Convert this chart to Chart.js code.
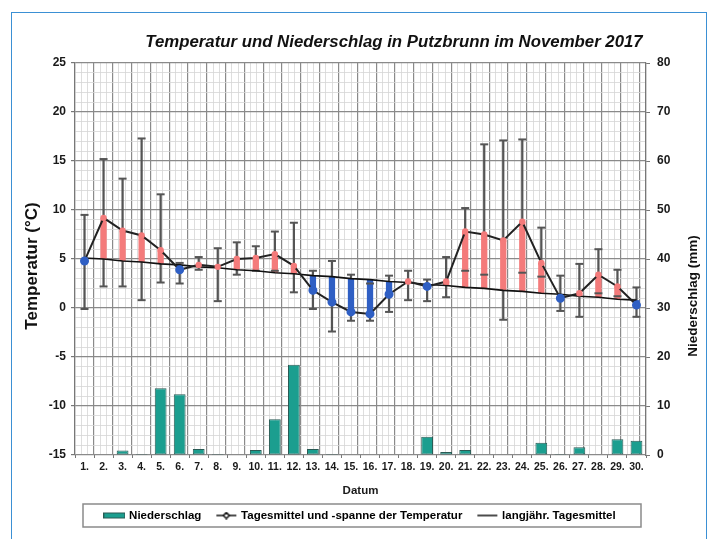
<!DOCTYPE html>
<html>
<head>
<meta charset="utf-8">
<script src="https://cdn.jsdelivr.net/npm/chart.js@4.4.1/dist/chart.umd.min.js"></script>
<style>
html, body { margin: 0; padding: 0; background: #fff; }
#wrap { position: relative; width: 711px; height: 539px; }
#frame { position: absolute; left: 11px; top: 12px; width: 694px; height: 540px; border: 1.5px solid #3b90d4; border-bottom: none; pointer-events: none; }
</style>
</head>
<body>
<div id="wrap">
  <canvas id="chart" width="711" height="539"></canvas>
  <div id="frame"></div>
</div>
<script>
// Datum (1. - 30. November 2017)
const tage = ['1.','2.','3.','4.','5.','6.','7.','8.','9.','10.','11.','12.','13.','14.','15.',
              '16.','17.','18.','19.','20.','21.','22.','23.','24.','25.','26.','27.','28.','29.','30.']

// Tagesmittel der Temperatur (°C)
const tagesmittel = [4.8, 9.2, 7.9, 7.4, 5.9, 3.9, 4.4, 4.2, 5.0, 5.1, 5.5, 4.3, 1.8, 0.6, -0.4,
                     -0.6, 1.4, 2.7, 2.2, 2.7, 7.8, 7.5, 6.9, 8.8, 4.6, 1.0, 1.5, 3.4, 2.2, 0.3]
// Tagesmaximum / Tagesminimum (°C)
const tagesmax = [9.5, 15.2, 13.2, 17.3, 11.6, 4.6, 5.2, 6.1, 6.7, 6.3, 7.8, 8.7, 3.8, 4.8, 3.4,
                  2.5, 3.3, 3.8, 2.9, 5.2, 10.2, 16.7, 17.1, 17.2, 8.2, 3.3, 4.5, 6.0, 3.9, 2.1]
const tagesmin = [-0.1, 2.2, 2.2, 0.8, 2.6, 2.5, 3.9, 0.7, 3.4, 3.8, 3.8, 1.6, -0.1, -2.4, -1.3,
                  -1.3, -0.4, 0.8, 0.7, 1.1, 3.8, 3.4, -1.2, 3.6, 3.2, -0.3, -0.9, 1.5, 1.2, -0.9]
// langjähriges Tagesmittel (°C)
const langjaehrig = [5.1, 5.0, 4.8, 4.7, 4.5, 4.4, 4.2, 4.1, 3.9, 3.8, 3.6, 3.5, 3.3, 3.2, 3.0,
                     2.9, 2.7, 2.6, 2.4, 2.3, 2.1, 2.0, 1.8, 1.7, 1.5, 1.4, 1.2, 1.1, 0.9, 0.8]
// Niederschlag (mm)
const niederschlag = [0, 0, 0.9, 0.2, 13.6, 12.4, 1.2, 0.2, 0, 1.0, 7.3, 18.4, 1.2, 0.2, 0,
                      0, 0, 0, 3.7, 0.6, 1.0, 0, 0, 0, 2.5, 0.2, 1.6, 0, 3.2, 2.9]

const ROT = '#f47b7b'
const BLAU = '#2f5fc4'
const TUERKIS = '#1b9e8f'
const GRAU = '#555'
const SCHRIFT = '"Liberation Sans", Arial, sans-serif'

Chart.defaults.font.family = SCHRIFT
Chart.defaults.font.weight = 'bold'
Chart.defaults.color = '#1a1a1a'

const ueber = tagesmittel.map((v, i) => v >= langjaehrig[i])
const farben = ueber.map(u => u ? ROT : BLAU)

// grobe Linie alle n Einheiten, feine dazwischen
const istHaupt = (c, n) => !c.tick || Math.round(c.tick.value) % n === 0

function swatch(art) {
    const c = document.createElement('canvas')
    c.width = 22
    c.height = 8
    const g = c.getContext('2d')
    if (art == 'balken') {
        g.fillStyle = TUERKIS
        g.fillRect(0, 1, 22, 6)
        g.strokeStyle = '#2a5a54'
        g.lineWidth = 1
        g.strokeRect(0.5, 1.5, 21, 5)
    } else {
        g.strokeStyle = '#111'
        g.lineWidth = 1.5
        g.beginPath()
        g.moveTo(1, 4)
        g.lineTo(21, 4)
        g.stroke()
        if (art == 'mittel') {
            g.fillStyle = '#fff'
            g.beginPath()
            g.moveTo(11, 1); g.lineTo(14, 4); g.lineTo(11, 7); g.lineTo(8, 4); g.closePath()
            g.fill()
            g.stroke()
        }
    }
    return c
}

const beschriftung = {
    id: 'beschriftung',
    afterDraw(chart) {
        const ctx = chart.ctx
        ctx.save()
        ctx.fillStyle = '#111'
        ctx.textAlign = 'center'
        ctx.textBaseline = 'middle'
        ctx.font = 'italic bold 16.8px ' + SCHRIFT
        ctx.fillText('Temperatur und Niederschlag in Putzbrunn im November 2017', 394, 42)

        ctx.font = 'bold 17px ' + SCHRIFT
        ctx.save()
        ctx.translate(32, 266)
        ctx.rotate(-Math.PI / 2)
        ctx.fillText('Temperatur (°C)', 0, 0)
        ctx.restore()
        ctx.font = 'bold 13.5px ' + SCHRIFT
        ctx.save()
        ctx.translate(693, 296)
        ctx.rotate(-Math.PI / 2)
        ctx.fillText('Niederschlag (mm)', 0, 0)
        ctx.restore()

        // Rahmen um die Legende
        const boxes = chart.legend.legendHitBoxes
        if (boxes && boxes.length) {
            const mitte = boxes[0].top + boxes[0].height / 2
            ctx.strokeStyle = '#8a8a8a'
            ctx.lineWidth = 1.5
            ctx.strokeRect(chart.chartArea.left + 8, mitte - 11.5, chart.chartArea.width - 13, 23)
        }
        ctx.restore()
    }
}

const ctx = document.getElementById('chart').getContext('2d')
const chart = new Chart(ctx, {
    type: 'bar',
    data: {
        labels: tage,
        datasets: [
            {
                label: 'Niederschlag',
                type: 'bar',
                data: niederschlag,
                yAxisID: 'yP',
                xAxisID: 'x',
                backgroundColor: TUERKIS,
                borderColor: '#2a5a54',
                borderWidth: 1,
                borderSkipped: false,
                barPercentage: 0.62,
                categoryPercentage: 1,
                grouped: false,
                order: 7
            },
            {
                label: 'Spanne',
                type: 'bar',
                data: tagesmin.map((v, i) => [v, tagesmax[i]]),
                yAxisID: 'y',
                xAxisID: 'x',
                backgroundColor: GRAU,
                barThickness: 1.6,
                grouped: false,
                order: 6
            },
            {
                label: 'Abweichung',
                type: 'bar',
                data: langjaehrig.map((v, i) => [v, tagesmittel[i]]),
                yAxisID: 'y',
                xAxisID: 'x',
                backgroundColor: farben,
                barPercentage: 0.33,
                categoryPercentage: 1,
                borderSkipped: false,
                grouped: false,
                order: 5
            },
            {
                label: 'Maximum',
                type: 'line',
                data: tagesmax,
                yAxisID: 'y',
                xAxisID: 'x',
                showLine: false,
                pointStyle: 'line',
                pointRadius: 4,
                borderColor: GRAU,
                borderWidth: 2,
                order: 4
            },
            {
                label: 'Minimum',
                type: 'line',
                data: tagesmin,
                yAxisID: 'y',
                xAxisID: 'x',
                showLine: false,
                pointStyle: 'line',
                pointRadius: 4,
                borderColor: GRAU,
                borderWidth: 2,
                order: 4
            },
            {
                label: 'langjähr. Tagesmittel',
                type: 'line',
                data: langjaehrig,
                yAxisID: 'y',
                xAxisID: 'x',
                borderColor: '#111',
                borderWidth: 1.6,
                pointRadius: 0,
                order: 3
            },
            {
                label: 'Tagesmittel und -spanne der Temperatur',
                type: 'line',
                data: tagesmittel,
                yAxisID: 'y',
                xAxisID: 'x',
                borderColor: '#222',
                borderWidth: 2,
                pointRadius: ueber.map(u => u ? 2.2 : 3.5),
                pointBackgroundColor: farben,
                pointBorderColor: farben,
                order: 2
            }
        ]
    },
    options: {
        responsive: false,
        animation: false,
        devicePixelRatio: 1,
        layout: { padding: { top: 63, right: 0, bottom: 7.75, left: 0 } },
        plugins: {
            tooltip: { enabled: false },
            title: { display: false },
            legend: {
                position: 'bottom',
                fullSize: false,
                labels: {
                    usePointStyle: true,
                    pointStyleWidth: 18,
                    boxHeight: 8,
                    padding: 16,
                    color: '#222',
                    font: { size: 11.5, weight: 'bold' },
                    generateLabels: () => [
                        { text: 'Niederschlag', pointStyle: swatch('balken'), datasetIndex: 0, hidden: false, lineWidth: 0 },
                        { text: 'Tagesmittel und -spanne der Temperatur', pointStyle: swatch('mittel'), datasetIndex: 6, hidden: false, lineWidth: 0 },
                        { text: 'langjähr. Tagesmittel', pointStyle: swatch('linie'), datasetIndex: 5, hidden: false, lineWidth: 0 }
                    ]
                }
            }
        },
        scales: {
            x: {
                type: 'category',
                offset: true,
                grid: { drawOnChartArea: false, drawTicks: true, tickLength: 3, color: '#777', offset: true },
                border: { display: false },
                ticks: { font: { size: 10.5, weight: 'bold' }, padding: 3, maxRotation: 0, autoSkip: false },
                title: { display: true, text: 'Datum', font: { size: 11.5, weight: 'bold' }, padding: { top: 0, bottom: -4 } },
                afterFit: s => { s.height = 38.75 }
            },
            xRaster: {
                type: 'linear',
                position: 'bottom',
                min: 0,
                max: 90,
                ticks: { display: false, stepSize: 1, autoSkip: false, maxTicksLimit: 200 },
                grid: {
                    drawTicks: false,
                    color: c => istHaupt(c, 3) ? '#8a8a8a' : '#d6d6d6',
                    lineWidth: c => istHaupt(c, 3) ? 1.2 : 0.8
                },
                border: { display: false },
                afterFit: s => { s.height = 0 }
            },
            y: {
                type: 'linear',
                position: 'left',
                min: -15,
                max: 25,
                ticks: {
                    stepSize: 1,
                    autoSkip: false,
                    maxTicksLimit: 100,
                    padding: 5,
                    font: { size: 12, weight: 'bold' },
                    callback: v => v % 5 === 0 ? v : ''
                },
                grid: {
                    tickLength: 4,
                    color: c => istHaupt(c, 5) ? '#8a8a8a' : '#d6d6d6',
                    lineWidth: c => istHaupt(c, 5) ? 1.2 : 0.8,
                    tickColor: c => istHaupt(c, 5) ? '#777' : 'rgba(0,0,0,0)'
                },
                border: { color: '#777', width: 1.2 },
                afterFit: s => { s.width = 75 }
            },
            yP: {
                type: 'linear',
                position: 'right',
                min: 0,
                max: 80,
                ticks: { stepSize: 10, padding: 7, font: { size: 12, weight: 'bold' } },
                grid: { drawOnChartArea: false, tickLength: 4, tickColor: '#777' },
                border: { color: '#777', width: 1.2 },
                afterFit: s => { s.width = 65 }
            }
        }
    },
    plugins: [beschriftung]
})
</script>
</body>
</html>
